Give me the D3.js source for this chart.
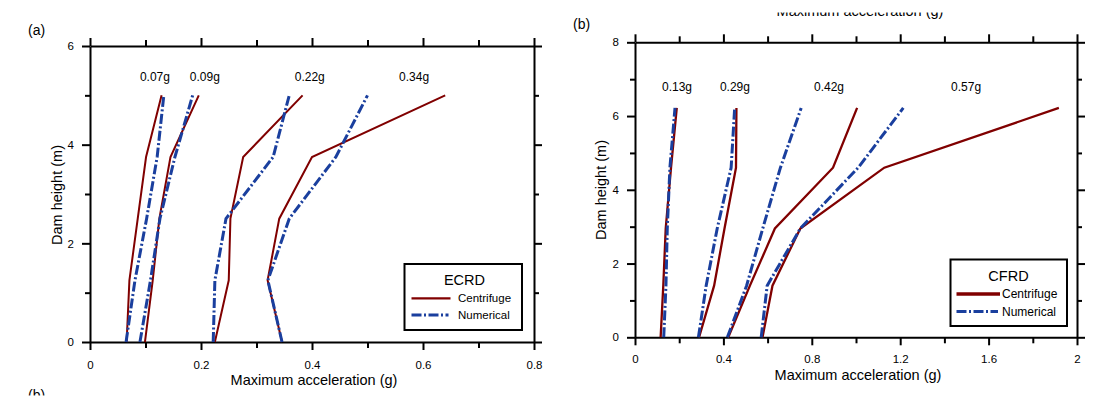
<!DOCTYPE html>
<html>
<head>
<meta charset="utf-8">
<script src="https://cdn.jsdelivr.net/npm/d3@7"></script>
<style>
  html, body { margin: 0; padding: 0; background: #fff; }
  svg { display: block; font-family: "Liberation Sans", Arial, sans-serif; }
</style>
</head>
<body>
<svg id="chart" width="1108" height="401"></svg>
<script>
// ---------------- Data ----------------
// Panel (a) ECRD
const heightsA = [0, 1.25, 2.5, 3.75, 5];
const levelLabelsA = ["0.07g", "0.09g", "0.22g", "0.34g"];
const levelLabelXA = [0.117, 0.207, 0.396, 0.584];
const levelLabelYA = 5.37;
const centrifugeA = [
  [0.066, 0.071, 0.086, 0.101, 0.129],
  [0.099, 0.113, 0.125, 0.145, 0.196],
  [0.225, 0.250, 0.253, 0.276, 0.383],
  [0.346, 0.320, 0.341, 0.400, 0.640]
];
const numericalA = [
  [0.065, 0.081, 0.102, 0.121, 0.133],
  [0.090, 0.109, 0.126, 0.153, 0.185],
  [0.222, 0.225, 0.245, 0.330, 0.359],
  [0.346, 0.3205, 0.359, 0.443, 0.500]
];
const xMajorA = [0, 0.2, 0.4, 0.6, 0.8];
const xMinorA = [0.1, 0.3, 0.5, 0.7];
const yMajorA = [0, 2, 4, 6];
const yMinorA = [1, 3, 5];

// Panel (b) CFRD
const heightsB = [0, 1.4, 2.95, 4.6, 6.22];
const levelLabelsB = ["0.13g", "0.29g", "0.42g", "0.57g"];
const levelLabelXB = [0.19, 0.452, 0.878, 1.498];
const levelLabelYB = 6.79;
const centrifugeB = [
  [0.116, 0.128, 0.139, 0.163, 0.189],
  [0.290, 0.358, 0.405, 0.457, 0.459],
  [0.422, 0.520, 0.633, 0.896, 1.005],
  [0.577, 0.622, 0.748, 1.128, 1.918]
];
const numericalB = [
  [0.130, 0.140, 0.146, 0.158, 0.181],
  [0.287, 0.322, 0.372, 0.435, 0.451],
  [0.418, 0.505, 0.578, 0.658, 0.752],
  [0.571, 0.598, 0.748, 1.010, 1.214]
];
const xMajorB = [0, 0.4, 0.8, 1.2, 1.6, 2];
const xMinorB = [0.2, 0.6, 1.0, 1.4, 1.8];
const yMajorB = [0, 2, 4, 6, 8];
const yMinorB = [1, 3, 5, 7];

const legendLabels = ["Centrifuge", "Numerical"];
const xTitle = "Maximum acceleration (g)";
const yTitle = "Dam height (m)";

// ---------------- Styles ----------------
const RED = "#800000";
const BLUE = "#1a3f9e";
const DASH = "10,2.5,2,2.5";

const svg = d3.select("#chart");
const fmt = d => d3.format(".1~f")(d);

function drawPanel(cfg) {
  const x = d3.scaleLinear().domain(cfg.xDomain).range([cfg.left, cfg.right]);
  const y = d3.scaleLinear().domain(cfg.yDomain).range([cfg.bottom, cfg.top]);
  const g = svg.append("g");

  function style(sel) {
    sel.selectAll(".domain").attr("stroke", "#000").attr("stroke-width", 2);
    sel.selectAll(".tick line").attr("stroke", "#000").attr("stroke-width", 2);
    sel.selectAll(".tick text").attr("font-size", 11.5).attr("fill", "#000")
       .attr("font-family", "Liberation Sans, Arial, sans-serif");
  }
  // bottom
  g.append("g").attr("transform", `translate(0,${cfg.bottom})`)
    .call(d3.axisBottom(x).tickValues(cfg.xMajor).tickSize(8).tickSizeOuter(0).tickPadding(cfg.xPad).tickFormat(fmt))
    .call(style);
  g.append("g").attr("transform", `translate(0,${cfg.bottom})`)
    .call(d3.axisBottom(x).tickValues(cfg.xMinor).tickSize(6).tickSizeOuter(0).tickFormat(""))
    .call(style).call(s => s.select(".domain").remove());
  // top
  g.append("g").attr("transform", `translate(0,${cfg.top})`)
    .call(d3.axisTop(x).tickValues(cfg.xMajor).tickSize(8).tickSizeOuter(0).tickFormat(""))
    .call(style);
  g.append("g").attr("transform", `translate(0,${cfg.top})`)
    .call(d3.axisTop(x).tickValues(cfg.xMinor).tickSize(6).tickSizeOuter(0).tickFormat(""))
    .call(style).call(s => s.select(".domain").remove());
  // left
  g.append("g").attr("transform", `translate(${cfg.left},0)`)
    .call(d3.axisLeft(y).tickValues(cfg.yMajor).tickSize(8).tickSizeOuter(0).tickPadding(8).tickFormat(fmt))
    .call(style);
  g.append("g").attr("transform", `translate(${cfg.left},0)`)
    .call(d3.axisLeft(y).tickValues(cfg.yMinor).tickSize(5).tickSizeOuter(0).tickFormat(""))
    .call(style).call(s => s.select(".domain").remove());
  // right
  g.append("g").attr("transform", `translate(${cfg.right},0)`)
    .call(d3.axisRight(y).tickValues(cfg.yMajor).tickSize(8).tickSizeOuter(0).tickFormat(""))
    .call(style);
  g.append("g").attr("transform", `translate(${cfg.right},0)`)
    .call(d3.axisRight(y).tickValues(cfg.yMinor).tickSize(5).tickSizeOuter(0).tickFormat(""))
    .call(style).call(s => s.select(".domain").remove());

  const line = heights => d3.line().x(d => x(d)).y((d, i) => y(heights[i]));

  // centrifuge
  g.append("g").selectAll("path").data(cfg.centrifuge).join("path")
    .attr("d", d => line(cfg.heights)(d))
    .attr("fill", "none").attr("stroke", RED).attr("stroke-width", cfg.redWidth);
  // numerical
  g.append("g").selectAll("path").data(cfg.numerical).join("path")
    .attr("d", d => line(cfg.heights)(d))
    .attr("fill", "none").attr("stroke", BLUE).attr("stroke-width", 3)
    .attr("stroke-dasharray", DASH);

  // level labels
  g.append("g").selectAll("text").data(cfg.levelLabels).join("text")
    .attr("x", (d, i) => x(cfg.levelLabelX[i]))
    .attr("y", y(cfg.levelLabelY))
    .attr("dy", "0.35em")
    .attr("text-anchor", "middle")
    .attr("font-size", 12)
    .text(d => d);

  // axis titles
  g.append("text")
    .attr("x", (cfg.left + cfg.right) / 2 + cfg.xTitleDx)
    .attr("y", cfg.xTitleY)
    .attr("text-anchor", "middle")
    .attr("font-size", 14.5)
    .text(xTitle);
  g.append("text")
    .attr("transform", `translate(${cfg.yTitleX},${cfg.yTitleY}) rotate(-90)`)
    .attr("text-anchor", "middle")
    .attr("font-size", 14.5)
    .text(yTitle);

  // legend
  const L = cfg.legend;
  const lg = g.append("g");
  lg.append("rect").attr("x", L.x0).attr("y", L.y0)
    .attr("width", L.x1 - L.x0).attr("height", L.y1 - L.y0)
    .attr("fill", "#fff").attr("stroke", "#000").attr("stroke-width", 2);
  lg.append("text").attr("x", L.titleX).attr("y", L.titleY).attr("dy", "0.35em")
    .attr("text-anchor", "middle").attr("font-size", 14.5).text(cfg.legendTitle);
  lg.append("line").attr("x1", L.lx0).attr("x2", L.lx1).attr("y1", L.ry).attr("y2", L.ry)
    .attr("stroke", RED).attr("stroke-width", L.redW);
  lg.append("line").attr("x1", L.lx0).attr("x2", L.lx1 - 2).attr("y1", L.by).attr("y2", L.by)
    .attr("stroke", BLUE).attr("stroke-width", 3).attr("stroke-dasharray", DASH);
  lg.append("text").attr("x", L.tx).attr("y", L.ry).attr("dy", "0.35em")
    .attr("font-size", L.fs).text(legendLabels[0]);
  lg.append("text").attr("x", L.tx).attr("y", L.by).attr("dy", "0.35em")
    .attr("font-size", L.fs).text(legendLabels[1]);
}

drawPanel({
  left: 90, right: 534, top: 46, bottom: 342,
  xDomain: [0, 0.8], yDomain: [0, 6],
  xMajor: xMajorA, xMinor: xMinorA, yMajor: yMajorA, yMinor: yMinorA,
  xPad: 11,
  heights: heightsA, centrifuge: centrifugeA, numerical: numericalA,
  levelLabels: levelLabelsA, levelLabelX: levelLabelXA, levelLabelY: levelLabelYA,
  redWidth: 2,
  xTitleDx: 2, xTitleY: 385,
  yTitleX: 62, yTitleY: 195,
  legendTitle: "ECRD",
  legend: { x0: 404.5, y0: 264, x1: 522, y1: 330, titleX: 464.5, titleY: 279.5,
            lx0: 411.5, lx1: 450.5, ry: 298.3, by: 315, tx: 458, fs: 11.5, redW: 2.2 }
});

drawPanel({
  left: 635, right: 1077, top: 42.3, bottom: 337.3,
  xDomain: [0, 2], yDomain: [0, 8],
  xMajor: xMajorB, xMinor: xMinorB, yMajor: yMajorB, yMinor: yMinorB,
  xPad: 10,
  heights: heightsB, centrifuge: centrifugeB, numerical: numericalB,
  levelLabels: levelLabelsB, levelLabelX: levelLabelXB, levelLabelY: levelLabelYB,
  redWidth: 2.3,
  xTitleDx: 2, xTitleY: 380,
  yTitleX: 606, yTitleY: 190,
  legendTitle: "CFRD",
  legend: { x0: 950.5, y0: 259.5, x1: 1067, y1: 326, titleX: 1008.5, titleY: 276,
            lx0: 956.5, lx1: 1000, ry: 294, by: 311.5, tx: 1002, fs: 12, redW: 3.5 }
});

// panel letters and clipped remnants of neighbouring figures
svg.append("text").attr("x", 28).attr("y", 35).attr("font-size", 14).text("(a)");
svg.append("text").attr("x", 573).attr("y", 29).attr("font-size", 14).text("(b)");

svg.append("clipPath").attr("id", "botclip")
  .append("rect").attr("x", 0).attr("y", 380).attr("width", 200).attr("height", 15.5);
svg.append("text").attr("clip-path", "url(#botclip)")
  .attr("x", 28).attr("y", 400).attr("font-size", 14).text("(b)");

svg.append("clipPath").attr("id", "topclip")
  .append("rect").attr("x", 0).attr("y", 12.5).attr("width", 1108).attr("height", 20);
svg.append("text").attr("clip-path", "url(#topclip)")
  .attr("x", 860).attr("y", 15.5).attr("text-anchor", "middle")
  .attr("font-size", 14.5).text(xTitle);
</script>
</body>
</html>
